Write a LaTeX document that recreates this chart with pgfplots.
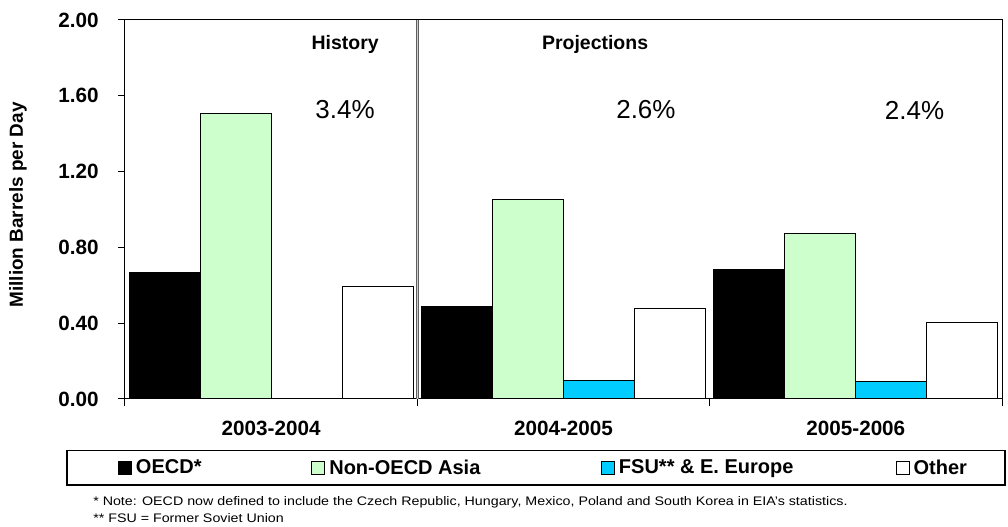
\documentclass[border=0pt]{standalone}
\usepackage{pgfplots}
\pgfplotsset{compat=1.18}
\usepackage{fontspec}
\setmainfont{Liberation Sans}
\definecolor{asiagreen}{RGB}{204,255,204}
\definecolor{fsucyan}{RGB}{0,204,255}
\begin{document}
\begin{tikzpicture}
\useasboundingbox (0,0) rectangle (756pt,-395.25pt);
\begin{axis}[
  at={(93.75pt,-299.25pt)}, anchor=south west,
  scale only axis, width=657.75pt, height=284.25pt,
  xmin=-0.5, xmax=2.5, ymin=0, ymax=2,
  ybar, bar width=0.243,
  axis line style={black, line width=0.75pt},
  tick pos=left, tick align=outside,
  major tick length=5.25pt, minor tick length=5.25pt,
  xtick={0,1,2}, xticklabels={2003-2004,2004-2005,2005-2006},
  major x tick style={draw=none},
  minor xtick={-0.5,0.5,1.5,2.5},
  minor x tick style={black, line width=0.75pt},
  ytick={0,0.4,0.8,1.2,1.6,2.0},
  yticklabels={0.00,0.40,0.80,1.20,1.60,2.00},
  ytick style={black, line width=0.75pt},
  tick label style={font=\fontsize{15.5pt}{18pt}\selectfont\bfseries},
  xticklabel style={yshift=-8pt},
  every y tick label/.append style={xshift=-11pt},
  ylabel={Million Barrels per Day},
  ylabel style={font=\fontsize{14.2pt}{17pt}\selectfont\bfseries, at={(axis description cs:-0.122,0.512)}, anchor=center},
  legend columns=4,
  legend style={draw=none, fill=none, inner sep=0pt, outer sep=0pt,
    at={(axis description cs:-0.008,-0.182)}, anchor=west,
    font=\fontsize{15pt}{18pt}\selectfont\bfseries,
    nodes={inner xsep=0pt, inner ysep=1pt},
    /tikz/every odd column/.append style={column sep=3pt},
    /tikz/every even column/.append style={column sep=0pt}},
  legend image code/.code={\draw[#1, draw=black, line width=0.75pt] (0pt,-4.9pt) rectangle (9.75pt,4.9pt);},
  clip=false,
]
\addplot[fill=black, draw=black, line width=0.75pt, bar shift=-0.3645] coordinates {(0,0.665) (1,0.49) (2,0.685)};
\addlegendentry{\makebox[131.5pt][l]{OECD*}}
\addplot[fill=asiagreen, draw=black, line width=0.75pt, bar shift=-0.1215] coordinates {(0,1.505) (1,1.055) (2,0.875)};
\addlegendentry{\makebox[203.75pt][l]{Non-OECD Asia}}
\addplot[fill=fsucyan, draw=black, line width=0.75pt, bar shift=0.1215] coordinates {(1,0.10) (2,0.092)};
\addlegendentry{\makebox[207.5pt][l]{FSU** \& E. Europe}}
\addplot[fill=white, draw=black, line width=0.75pt, bar shift=0.3645] coordinates {(0,0.595) (1,0.475) (2,0.405)};
\addlegendentry{Other}
\draw[gray!75!black, line width=2.25pt] (axis cs:0.5,0) -- (axis cs:0.5,2);
\draw[gray!40, line width=0.6pt] (axis cs:0.5,0) -- (axis cs:0.5,2);
\node[font=\fontsize{14.6pt}{17pt}\selectfont\bfseries] at (axis cs:0.253,1.873) {History};
\node[font=\fontsize{14.6pt}{17pt}\selectfont\bfseries] at (axis cs:1.108,1.873) {Projections};
\node[font=\fontsize{19.5pt}{22pt}\selectfont] at (axis cs:0.253,1.525) {3.4\%};
\node[font=\fontsize{19.5pt}{22pt}\selectfont] at (axis cs:1.282,1.525) {2.6\%};
\node[font=\fontsize{19.5pt}{22pt}\selectfont] at (axis cs:2.201,1.525) {2.4\%};
\end{axis}
\draw[black, line width=0.9pt] (50.25pt,-338pt) rectangle (753.75pt,-363.75pt);
\node[anchor=west, inner sep=0pt, font=\fontsize{9.3pt}{11pt}\selectfont] at (69.75pt,-376.5pt) {\scalebox{1.15}[1]{* Note: OECD now defined to include the Czech Republic, Hungary, Mexico, Poland and South Korea in EIA's statistics.}};
\node[anchor=west, inner sep=0pt, font=\fontsize{9.3pt}{11pt}\selectfont] at (69.75pt,-388.5pt) {\scalebox{1.15}[1]{** FSU = Former Soviet Union}};
\end{tikzpicture}
\end{document}
